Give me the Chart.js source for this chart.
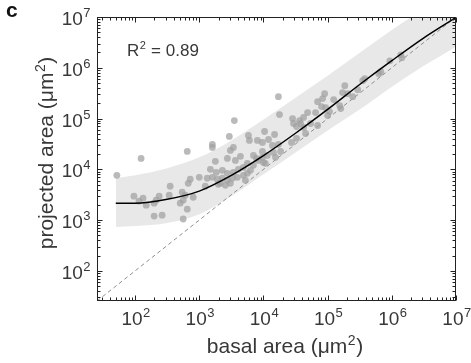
<!DOCTYPE html>
<html><head><meta charset="utf-8">
<script src="https://cdn.jsdelivr.net/npm/chart.js@4"></script>
<style>html,body{margin:0;padding:0;background:#fff}#wrap{width:471px;height:363px}</style>
</head><body><div id="wrap"><canvas id="c" width="471" height="363"></canvas></div>
<script>
// ---- data ----
const basalArea = [52,124,650,96,115,133,149,198,213,237,198,264,352,340,505,562,650,542,604,805,562,723,673,1000,1240,1330,
  1600,1600,2940,3520,5830,6040,8050,3400,3050,1780,4380,2740,3650,5620,9640,8350,10000,1490,1840,2290,2740,3400,4070,4870,6270,6980,
  1600,1910,2290,2740,3280,3920,4870,5620,2130,2550,3050,5230,1980,
  17100,17800,10400,14900,12000,9640,13800,17100,14300,11500,9640,15400,10700,7780,6980,18500,27400,32800,45300,42200,54200,69800,
  29400,28400,36500,42200,48700,64900,80500,69800,83500,89800,124000,171000,205000,154000,100000,160000,185000,246000,294000,352000,
  379000,627000,673000,931000,1380000,1430000,107000,93100,32800,37900];
const projectedArea = [7600,16400,22500,2960,2360,2700,1970,2150,2470,2960,1200,1250,4640,3090,2150,1050,1640,3540,3090,2820,2470,6370,5310,6970,4640,6670,
  30900,27000,44400,91400,46400,37100,37100,27000,23600,14400,18000,16400,15000,13100,22500,15000,13700,10000,8730,9550,8350,8730,10000,10900,9550,12000,
  6970,6370,6670,6080,6670,6970,7620,8350,5310,4850,5310,6080,5080,
  270000,120000,55600,48500,38700,33800,29600,30900,21500,18800,17200,17200,13100,16400,18800,22500,33800,40600,50800,66700,79800,72900,
  79800,100000,91400,105000,131000,131000,172000,215000,247000,309000,236000,324000,309000,180000,115000,157000,444000,270000,371000,556000,
  608000,762000,835000,1370000,1800000,1570000,137000,164000,69700,79800];
const fitX = [50,100,316,1000,3160,10000,31600,100000,316000,1000000,3160000,10000000];
const fitY = [2150,2150,2570,3720,7590,18600,51300,151000,468000,1380000,3890000,9800000];
const bandUpper = [6670,7620,10500,17200,37100,95500,258000,697000,1970000,5560000,14400000,40000000];
const bandLower = [730,762,873,1310,2960,7980,21500,58200,150000,424000,1090000,2580000];
const identityLine = [25.5, 10000000];
const axisMin = 25.5, axisMax = 10000000;
const decadeExponents = [2,3,4,5,6,7];
const xTitle = ['basal area (μm', '2', ')'];
const yTitle = ['projected area (μm', '2', ')'];
const r2Label = ['R', '2', ' = 0.89'];
const panelLabel = 'c';

const FONT = '"Liberation Sans", Arial, Helvetica, sans-serif';
const TXT = '#383838';

function drawSup(ctx, parts, x, y, size, supSize, rise, align) {
  ctx.font = size + 'px ' + FONT; const w0 = ctx.measureText(parts[0]).width;
  ctx.font = supSize + 'px ' + FONT; const w1 = ctx.measureText(parts[1]).width;
  ctx.font = size + 'px ' + FONT; const w2 = parts[2] ? ctx.measureText(parts[2]).width : 0;
  const total = w0 + w1 + w2 + 1;
  let sx = x;
  if (align === 'center') sx = x - total / 2; else if (align === 'right') sx = x - total;
  ctx.textAlign = 'left'; ctx.textBaseline = 'alphabetic';
  ctx.font = size + 'px ' + FONT; ctx.fillText(parts[0], sx, y);
  ctx.font = supSize + 'px ' + FONT; ctx.fillText(parts[1], sx + w0 + 0.5, y - rise);
  if (parts[2]) { ctx.font = size + 'px ' + FONT; ctx.fillText(parts[2], sx + w0 + w1 + 1, y); }
}

const framePlugin = {
  id: 'frame',
  afterDraw(chart) {
    const { ctx, chartArea: a, scales: { x, y } } = chart;
    ctx.save();
    ctx.strokeStyle = '#222'; ctx.lineWidth = 1;
    const L = Math.round(a.left) + 0.5, R = Math.round(a.right) - 0.5, T = Math.round(a.top) + 0.5, B = Math.round(a.bottom) - 0.5;
    ctx.strokeRect(L, T, R - L, B - T);
    // ticks, inward, all sides
    ctx.beginPath();
    for (let k = 1; k <= 7; k++) {
      for (let m = 1; m <= 9; m++) {
        const v = m * Math.pow(10, k);
        if (v < axisMin || v > axisMax) continue;
        const len = m === 1 ? 5 : 3;
        const px = Math.round(x.getPixelForValue(v)) + 0.5;
        ctx.moveTo(px, B); ctx.lineTo(px, B - len);
        ctx.moveTo(px, T); ctx.lineTo(px, T + len);
        const py = Math.round(y.getPixelForValue(v)) + 0.5;
        ctx.moveTo(L, py); ctx.lineTo(L + len, py);
        ctx.moveTo(R, py); ctx.lineTo(R - len, py);
      }
    }
    ctx.stroke();
    // tick labels
    ctx.fillStyle = TXT;
    for (const k of decadeExponents) {
      const v = Math.pow(10, k);
      drawSup(ctx, ['10', String(k)], x.getPixelForValue(v) + 1, 325, 19, 13, 8, 'center');
      drawSup(ctx, ['10', String(k)], 91, y.getPixelForValue(v) + 8, 19, 13, 8, 'right');
    }
    // axis titles
    drawSup(ctx, xTitle, 285, 353, 21, 14, 8, 'center');
    ctx.save();
    ctx.translate(53, (a.top + a.bottom) / 2 - 6);
    ctx.rotate(-Math.PI / 2);
    drawSup(ctx, yTitle, 0, 0, 21, 14, 8, 'center');
    ctx.restore();
    // annotation
    drawSup(ctx, r2Label, 127, 56, 17, 11, 7, 'left');
    ctx.font = 'bold 21px ' + FONT; ctx.textAlign = 'left'; ctx.fillStyle = '#111';
    ctx.fillText(panelLabel, 6, 17);
    ctx.restore();
  }
};

new Chart(document.getElementById('c'), {
  type: 'scatter',
  data: { datasets: [
    { label: 'fit', data: fitX.map((v, i) => ({ x: v, y: fitY[i] })), showLine: true, borderColor: '#000', borderWidth: 1.5,
      pointRadius: 0, cubicInterpolationMode: 'monotone', order: 0 },
    { label: 'cells', data: basalArea.map((v, i) => ({ x: v, y: projectedArea[i] })), pointRadius: 3.4,
      pointBackgroundColor: 'rgba(160,160,160,0.72)', pointBorderWidth: 0, order: 1 },
    { label: 'identity', data: identityLine.map(v => ({ x: v, y: v })), showLine: true, borderColor: '#8f8f8f', borderWidth: 1,
      borderDash: [4, 3], pointRadius: 0, order: 2 },
    { label: 'lower', data: fitX.map((v, i) => ({ x: v, y: bandLower[i] })), showLine: true, borderWidth: 0, borderColor: 'rgba(0,0,0,0)',
      pointRadius: 0, cubicInterpolationMode: 'monotone', fill: false, order: 3 },
    { label: 'upper', data: fitX.map((v, i) => ({ x: v, y: bandUpper[i] })), showLine: true, borderWidth: 0, borderColor: 'rgba(0,0,0,0)',
      pointRadius: 0, cubicInterpolationMode: 'monotone', backgroundColor: '#e8e8e8', fill: 3, order: 4 }
  ]},
  options: {
    responsive: false, animation: false, devicePixelRatio: 1,
    layout: { padding: { left: 97, right: 15, top: 17, bottom: 62 } },
    plugins: { legend: { display: false }, tooltip: { enabled: false } },
    scales: {
      x: { type: 'logarithmic', min: axisMin, max: axisMax, display: false },
      y: { type: 'logarithmic', min: axisMin, max: axisMax, display: false }
    }
  },
  plugins: [framePlugin]
});
</script></body></html>
